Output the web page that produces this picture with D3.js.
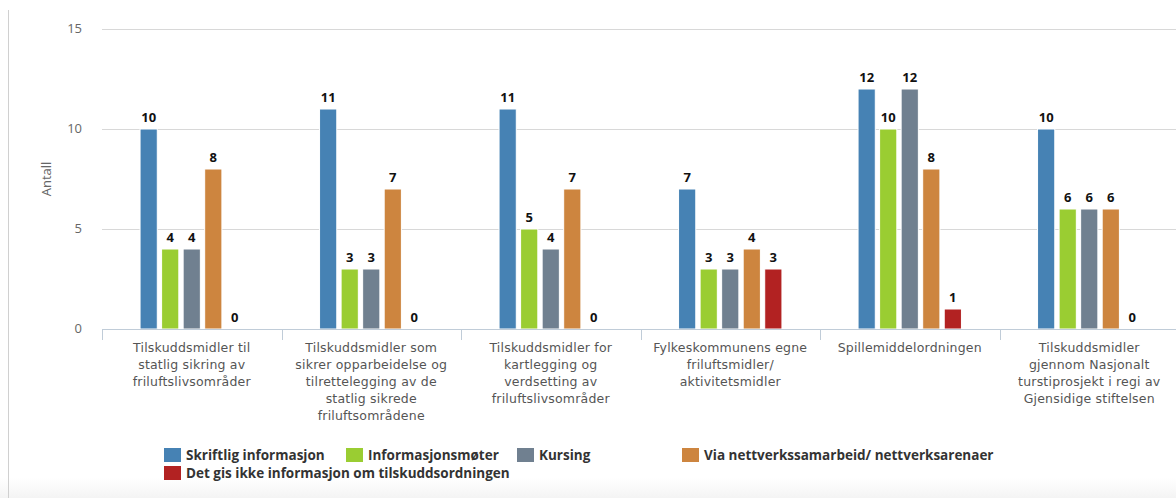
<!DOCTYPE html>
<html>
<head>
<meta charset="utf-8">
<script src="https://cdn.jsdelivr.net/npm/d3@7"></script>
<style>
  html, body { margin: 0; padding: 0; background: #fff; }
  svg { display: block; font-family: "Open Sans", "DejaVu Sans", sans-serif; }
</style>
</head>
<body>
<div id="chart"></div>
<script>
// categories, each wrapped the way the reference shows them
const categories = [
    ['Tilskuddsmidler til', 'statlig sikring av', 'friluftslivsområder'],
    ['Tilskuddsmidler som', 'sikrer opparbeidelse og', 'tilrettelegging av de', 'statlig sikrede', 'friluftsområdene'],
    ['Tilskuddsmidler for', 'kartlegging og', 'verdsetting av', 'friluftslivsområder'],
    ['Fylkeskommunens egne', 'friluftsmidler/', 'aktivitetsmidler'],
    ['Spillemiddelordningen'],
    ['Tilskuddsmidler', 'gjennom Nasjonalt', 'turstiprosjekt i regi av', 'Gjensidige stiftelsen']
];

const seriesNames = [
    'Skriftlig informasjon',
    'Informasjonsmøter',
    'Kursing',
    'Via nettverkssamarbeid/ nettverksarenaer',
    'Det gis ikke informasjon om tilskuddsordningen'
];

const skriftlig = [10, 11, 11, 7, 12, 10];
const moter = [4, 3, 5, 3, 10, 6];
const kursing = [4, 3, 4, 3, 12, 6];
const nettverk = [8, 7, 7, 4, 8, 6];
const ingenInfo = [0, 0, 0, 3, 1, 0];

const yTicks = [0, 5, 10, 15];
const colors = ['#4682B4', '#9ACD32', '#708090', '#CD853F', '#B22222'];

const seriesValues = [skriftlig, moter, kursing, nettverk, ingenInfo];

const width = 1176, height = 498;
const plot = { left: 102, right: 1179, top: 29, bottom: 329 };

const svg = d3.select('#chart').append('svg')
    .attr('width', width)
    .attr('height', height);

// faint grey fade at the bottom
const defs = svg.append('defs');
const grad = defs.append('linearGradient')
    .attr('id', 'fade').attr('x1', 0).attr('x2', 0).attr('y1', 0).attr('y2', 1);
grad.append('stop').attr('offset', '0%').attr('stop-color', '#fff');
grad.append('stop').attr('offset', '100%').attr('stop-color', '#f4f4f4');
svg.append('rect').attr('x', 0).attr('y', 478).attr('width', width).attr('height', 20)
    .attr('fill', 'url(#fade)');

// left border of the frame
svg.append('line')
    .attr('x1', 8.5).attr('x2', 8.5).attr('y1', 10).attr('y2', height)
    .attr('stroke', '#d0d0d0').attr('stroke-width', 1);

const x0 = d3.scaleBand()
    .domain(d3.range(categories.length))
    .range([plot.left, plot.right]);

const x1 = d3.scaleBand()
    .domain(d3.range(seriesNames.length))
    .range([0, x0.bandwidth() * 0.6])
    .paddingInner(0.2)
    .paddingOuter(0.1);

const y = d3.scaleLinear()
    .domain([0, 15])
    .range([plot.bottom, plot.top]);

// grid lines
svg.append('g')
    .selectAll('line')
    .data(yTicks.filter(t => t > 0))
    .join('line')
    .attr('x1', plot.left).attr('x2', width)
    .attr('y1', d => Math.round(y(d)) + 0.5)
    .attr('y2', d => Math.round(y(d)) + 0.5)
    .attr('stroke', '#d8d8d8');

// y axis labels
svg.append('g')
    .selectAll('text')
    .data(yTicks)
    .join('text')
    .attr('x', 82)
    .attr('y', d => y(d) + 4)
    .attr('text-anchor', 'end')
    .attr('fill', '#666')
    .attr('font-size', '13px')
    .text(d => d);

svg.append('text')
    .attr('transform', 'translate(51,179) rotate(-90)')
    .attr('text-anchor', 'middle')
    .attr('fill', '#666')
    .attr('font-size', '13px')
    .text('Antall');

// bars
const groupOffset = x0.bandwidth() * 0.2;
categories.forEach((cat, ci) => {
    const g = svg.append('g')
        .attr('transform', `translate(${x0(ci) + groupOffset},0)`);
    seriesValues.forEach((vals, si) => {
        const v = vals[ci];
        const bx = x1(si);
        if (v > 0) {
            g.append('rect')
                .attr('x', bx)
                .attr('y', y(v))
                .attr('width', x1.bandwidth())
                .attr('height', y(0) - y(v))
                .attr('fill', colors[si])
                .attr('stroke', '#fff')
                .attr('stroke-width', 1);
        }
        g.append('text')
            .attr('x', bx + x1.bandwidth() / 2)
            .attr('y', y(v) - 7)
            .attr('text-anchor', 'middle')
            .attr('font-size', '13px')
            .attr('font-weight', 'bold')
            .attr('fill', '#111')
            .text(v);
    });
});

// x axis line and ticks
svg.append('line')
    .attr('x1', plot.left).attr('x2', width)
    .attr('y1', plot.bottom + 0.5).attr('y2', plot.bottom + 0.5)
    .attr('stroke', '#c0ccd8');

svg.append('g')
    .selectAll('line')
    .data(d3.range(categories.length))
    .join('line')
    .attr('x1', d => Math.round(x0(d)) + 0.5)
    .attr('x2', d => Math.round(x0(d)) + 0.5)
    .attr('y1', plot.bottom)
    .attr('y2', plot.bottom + 11)
    .attr('stroke', '#c0ccd8');

// category labels
categories.forEach((lines, ci) => {
    const t = svg.append('text')
        .attr('text-anchor', 'middle')
        .attr('fill', '#555')
        .style('font-family', '"DejaVu Sans", sans-serif')
        .style('font-size', '12.5px')
        .style('letter-spacing', '0.2px');
    lines.forEach((ln, li) => {
        t.append('tspan')
            .attr('x', x0(ci) + x0.bandwidth() / 2)
            .attr('y', 352 + li * 17)
            .text(ln);
    });
});

// legend
const legendItems = [
    { x: 164, y: 448 },
    { x: 346, y: 448 },
    { x: 517, y: 448 },
    { x: 682, y: 448 },
    { x: 164, y: 466 }
];
const legend = svg.append('g');
seriesNames.forEach((name, si) => {
    const p = legendItems[si];
    legend.append('rect')
        .attr('x', p.x).attr('y', p.y)
        .attr('width', 17).attr('height', 14)
        .attr('fill', colors[si]);
    legend.append('text')
        .attr('x', p.x + 22)
        .attr('y', p.y + 12)
        .attr('font-size', '13.5px')
        .attr('font-weight', 'bold')
        .attr('fill', '#333')
        .text(name);
});
</script>
</body>
</html>
